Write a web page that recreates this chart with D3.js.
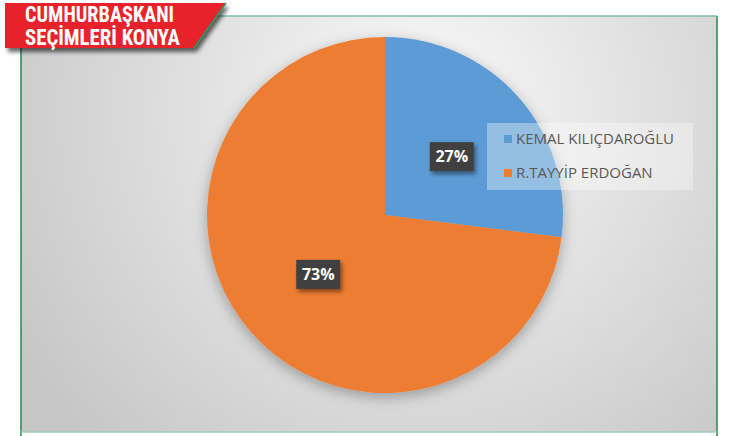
<!DOCTYPE html>
<html>
<head>
<meta charset="utf-8">
<script src="https://cdn.jsdelivr.net/npm/d3@7"></script>
<style>
  html, body { margin: 0; padding: 0; background: #fff; }
  svg { display: block; }
</style>
</head>
<body>
<svg id="chart" width="743" height="436"></svg>
<script>
const candidates = ['KEMAL KILIÇDAROĞLU', 'R.TAYYİP ERDOĞAN'];
const shares = [27, 73];
const colors = ['#5B9BD5', '#ED7D31'];
const titleLines = ['CUMHURBAŞKANI', 'SEÇİMLERİ KONYA'];

const svg = d3.select('#chart');
const defs = svg.append('defs');

// background gradient of the plot area
const bg = defs.append('radialGradient')
  .attr('id', 'bgGrad')
  .attr('gradientUnits', 'userSpaceOnUse')
  .attr('cx', 420).attr('cy', 110).attr('r', 470);
bg.append('stop').attr('offset', '0%').attr('stop-color', '#fafafa');
bg.append('stop').attr('offset', '45%').attr('stop-color', '#e2e2e2');
bg.append('stop').attr('offset', '100%').attr('stop-color', '#c6c6c6');

const pieShadow = defs.append('filter').attr('id', 'pieShadow')
  .attr('x', '-20%').attr('y', '-20%').attr('width', '140%').attr('height', '140%');
pieShadow.append('feDropShadow')
  .attr('dx', 0).attr('dy', 4).attr('stdDeviation', 7)
  .attr('flood-color', '#000').attr('flood-opacity', 0.3);

const boxShadow = defs.append('filter').attr('id', 'boxShadow')
  .attr('x', '-30%').attr('y', '-30%').attr('width', '160%').attr('height', '160%');
boxShadow.append('feDropShadow')
  .attr('dx', 2).attr('dy', 3).attr('stdDeviation', 2)
  .attr('flood-color', '#000').attr('flood-opacity', 0.45);

const bannerShadow = defs.append('filter').attr('id', 'bannerShadow')
  .attr('x', '-10%').attr('y', '-10%').attr('width', '130%').attr('height', '140%');
bannerShadow.append('feDropShadow')
  .attr('dx', 3).attr('dy', 4).attr('stdDeviation', 2)
  .attr('flood-color', '#000').attr('flood-opacity', 0.6);

// plot area
svg.append('rect')
  .attr('x', 21).attr('y', 16).attr('width', 696).attr('height', 416)
  .attr('fill', 'url(#bgGrad)');

svg.append('line').attr('x1', 21).attr('x2', 21).attr('y1', 16).attr('y2', 436)
  .attr('stroke', '#1e8a55').attr('stroke-width', 1.5);
svg.append('line').attr('x1', 717).attr('x2', 717).attr('y1', 16).attr('y2', 436)
  .attr('stroke', '#1e8a55').attr('stroke-width', 1.5);
svg.append('line').attr('x1', 21).attr('x2', 717).attr('y1', 16).attr('y2', 16)
  .attr('stroke', '#7fbf9c').attr('stroke-width', 1.5);
svg.append('line').attr('x1', 21).attr('x2', 717).attr('y1', 432).attr('y2', 432)
  .attr('stroke', '#9fcfb5').attr('stroke-width', 1.5);

// pie
const cx = 385, cy = 215, radius = 178;
const pie = d3.pie().sort(null).value((d) => d);
const arc = d3.arc().innerRadius(0).outerRadius(radius);

const g = svg.append('g').attr('transform', `translate(${cx},${cy})`);
const arcs = pie(shares);

g.append('g').attr('filter', 'url(#pieShadow)')
  .selectAll('path')
  .data(arcs)
  .enter()
  .append('path')
  .attr('d', arc)
  .attr('fill', (d, i) => colors[i]);

const labels = g.selectAll('g.lbl')
  .data(arcs)
  .enter()
  .append('g')
  .attr('class', 'lbl')
  .attr('transform', (d) => `translate(${arc.centroid(d)})`);

labels.append('rect')
  .attr('x', -22).attr('y', -14).attr('width', 44).attr('height', 29)
  .attr('fill', '#404040')
  .attr('filter', 'url(#boxShadow)');

labels.append('text')
  .attr('text-anchor', 'middle')
  .attr('dy', '0.36em')
  .attr('fill', '#fff')
  .style('font-family', '"Open Sans", "DejaVu Sans", sans-serif')
  .style('font-weight', 'bold')
  .style('font-size', '16px')
  .text((d) => `${d.data}%`);

// legend
const legend = svg.append('g').attr('transform', 'translate(487,123)');
legend.append('rect')
  .attr('width', 206).attr('height', 67)
  .attr('fill', '#fff').attr('fill-opacity', 0.35);

const items = legend.selectAll('g.item')
  .data(candidates)
  .enter()
  .append('g')
  .attr('class', 'item')
  .attr('transform', (d, i) => `translate(17,${16 + i * 34})`);

items.append('rect')
  .attr('x', 0).attr('y', -4).attr('width', 8).attr('height', 8)
  .attr('fill', (d, i) => colors[i]);

items.append('text')
  .attr('x', 12)
  .attr('dy', '0.36em')
  .attr('fill', '#595959')
  .style('font-family', '"Open Sans", "DejaVu Sans", sans-serif')
  .style('font-size', '15px')
  .text((d) => d);

// title banner
const banner = svg.append('g');
banner.append('path')
  .attr('d', 'M5,3 L226,3 L194,48 L5,48 Z')
  .attr('fill', '#e8202a')
  .attr('filter', 'url(#bannerShadow)');
banner.append('line')
  .attr('x1', 226).attr('y1', 3).attr('x2', 194).attr('y2', 48)
  .attr('stroke', '#2e9a62').attr('stroke-width', 1.5);

banner.selectAll('text')
  .data(titleLines)
  .enter()
  .append('text')
  .attr('x', 25)
  .attr('y', (d, i) => 22 + i * 23)
  .attr('fill', '#fff')
  .attr('textLength', (d, i) => (i === 0 ? 149 : 155))
  .attr('lengthAdjust', 'spacingAndGlyphs')
  .style('font-family', '"Liberation Sans Narrow", "Roboto Condensed", "Roboto", sans-serif')
  .style('font-weight', 'bold')
  .style('font-size', '22px')
  .text((d) => d);
</script>
</body>
</html>
